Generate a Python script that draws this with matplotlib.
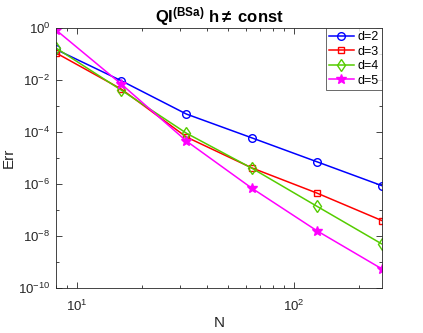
import matplotlib
matplotlib.use("Agg")
import matplotlib.pyplot as plt
from matplotlib.ticker import LogLocator, LogFormatterMathtext, NullFormatter

plt.rcParams["font.family"] = ["Liberation Sans", "DejaVu Sans"]
plt.rcParams["mathtext.fontset"] = "custom"
plt.rcParams["mathtext.rm"] = "Liberation Sans"
plt.rcParams["mathtext.bf"] = "Liberation Sans:bold"
plt.rcParams["mathtext.it"] = "Liberation Sans:italic"

# grid sizes and errors
N = [8, 16, 32, 64, 128, 256]
err_d2 = [0.15, 9.4e-3, 4.9e-4, 6.0e-5, 7.2e-6, 8.6e-7]
err_d3 = [0.11, 4.5e-3, 6.4e-5, 4.2e-6, 4.5e-7, 3.9e-8]
err_d4 = [0.17, 4.1e-3, 9.0e-5, 4.1e-6, 1.4e-7, 4.9e-9]
err_d5 = [0.84, 7.0e-3, 4.5e-5, 7.0e-7, 1.6e-8, 5.4e-10]
labels = ["d=2", "d=3", "d=4", "d=5"]

fig = plt.figure(figsize=(4.23, 3.33), dpi=100)
ax = fig.add_axes([56 / 423, 1 - 288 / 333, 326 / 423, 260 / 333])

ax.loglog(N, err_d2, "-o", color="blue", mfc="none", ms=5.5, lw=1.1, label=labels[0])
ax.loglog(N, err_d3, "-s", color="red", mfc="none", ms=4, lw=1.1, label=labels[1])
ax.loglog(N, err_d4, "-d", color="#55cc00", mfc="none", ms=6, lw=1.1, label=labels[2])
ax.loglog(N, err_d5, "-*", color="magenta", ms=7, lw=1.1, label=labels[3])

ax.set_xlim(8, 256)
ax.set_ylim(1e-10, 1)
ax.yaxis.set_major_locator(plt.FixedLocator([1e-10, 1e-8, 1e-6, 1e-4, 1e-2, 1]))
ax.yaxis.set_major_formatter(LogFormatterMathtext())
ax.yaxis.set_minor_locator(LogLocator(base=10, subs=[1.0], numticks=20))
ax.yaxis.set_minor_formatter(NullFormatter())
ax.xaxis.set_minor_formatter(NullFormatter())

ax.tick_params(which="both", direction="in", top=True, right=True,
               labelsize=9.5, colors="#262626", width=0.6)
ax.tick_params(which="major", length=4, pad=4)
ax.tick_params(axis="x", which="major", pad=8)
ax.tick_params(which="minor", length=2)
for s in ax.spines.values():
    s.set_color("#262626")
    s.set_linewidth(0.6)

ax.set_xlabel("N", fontsize=11, color="#262626", labelpad=1)
ax.set_ylabel("Err", fontsize=11, color="#262626")
ax.yaxis.set_label_coords(-0.123, 0.5)
ax.set_title(r"QI$^{\mathbf{(BSa)}}$ h$\mathbf{\neq}$ const", fontsize=12,
             fontweight="bold", pad=4)

leg = ax.legend(loc="upper right", borderaxespad=0, fancybox=False,
                edgecolor="#262626", fontsize=9, handlelength=2.0,
                labelspacing=0.2, borderpad=0.25, handletextpad=0.3)
leg.get_frame().set_linewidth(0.6)

fig.savefig("out.png", dpi=100)
